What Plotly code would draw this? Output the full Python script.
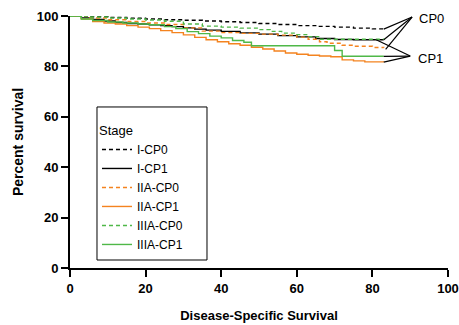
import plotly.graph_objects as go

# ---- data ----
t_i_cp0 = [0, 5, 10, 15, 20, 25, 30, 35, 40, 45, 50, 55, 60, 65, 70, 75, 80, 83]
s_i_cp0 = [100, 99.7, 99.4, 99.1, 98.8, 98.5, 98.3, 98.0, 97.7, 97.4, 97.0, 96.6, 96.2, 95.9, 95.6, 95.2, 94.9, 94.8]

t_i_cp1 = [0, 3, 6, 9, 12, 15, 18, 21, 24, 27, 30, 33, 36, 40, 45, 50, 55, 60, 65, 70, 75, 80, 83]
s_i_cp1 = [100, 99.2, 98.6, 98.0, 97.4, 97.0, 96.8, 96.5, 96.2, 95.8, 95.3, 94.8, 94.4, 93.9, 93.3, 92.8, 92.2, 91.7, 91.1, 90.7, 90.6, 90.6, 90.6]

t_iia_cp0 = [0, 5, 10, 15, 20, 25, 30, 35, 40, 45, 50, 55, 60, 63, 66, 68, 72, 75, 80, 83]
s_iia_cp0 = [100, 99.2, 98.5, 97.8, 97.2, 96.6, 95.3, 94.0, 93.4, 93.1, 92.8, 92.4, 91.6, 90.8, 89.8, 89.2, 88.4, 88.0, 87.5, 87.4]

t_iia_cp1 = [0, 3, 6, 9, 12, 15, 18, 21, 24, 27, 30, 33, 36, 39, 42, 45, 48, 51, 54, 57, 60, 63, 66, 69, 72, 75, 78, 83]
s_iia_cp1 = [100, 98.8, 97.8, 97.2, 96.8, 96.2, 95.6, 95.0, 94.2, 93.4, 92.5, 91.5, 90.6, 89.8, 89.0, 88.4, 87.6, 86.9, 86.1, 85.3, 84.8, 84.4, 84.1, 83.8, 82.6, 82.2, 81.8, 81.7]

t_iiia_cp0 = [0, 5, 10, 15, 20, 25, 30, 35, 40, 45, 50, 53, 56, 60, 63, 66, 83]
s_iiia_cp0 = [100, 99.6, 99.2, 98.8, 98.4, 97.9, 96.8, 96.0, 95.6, 95.2, 94.6, 93.9, 93.2, 92.6, 91.8, 90.8, 90.6]

t_iiia_cp1 = [0, 3, 6, 10, 14, 18, 21, 25, 28, 31, 34, 37, 40, 43, 46, 48, 70, 72, 83]
s_iiia_cp1 = [100, 98.8, 98.2, 97.6, 97.2, 96.8, 96.5, 95.8, 95.0, 93.8, 93.0, 92.0, 91.3, 90.3, 89.6, 88.2, 86.3, 84.0, 84.0]

x_ticks = [0, 20, 40, 60, 80, 100]
y_ticks = [0, 20, 40, 60, 80, 100]

BLACK = "#000000"
ORANGE = "#F4831F"
GREEN = "#4FB848"
FONT = "Arial, Liberation Sans, sans-serif"

series = [
    ("I-CP0", t_i_cp0, s_i_cp0, BLACK, "dash"),
    ("I-CP1", t_i_cp1, s_i_cp1, BLACK, "solid"),
    ("IIA-CP0", t_iia_cp0, s_iia_cp0, ORANGE, "dash"),
    ("IIA-CP1", t_iia_cp1, s_iia_cp1, ORANGE, "solid"),
    ("IIIA-CP0", t_iiia_cp0, s_iiia_cp0, GREEN, "dash"),
    ("IIIA-CP1", t_iiia_cp1, s_iiia_cp1, GREEN, "solid"),
]

fig = go.Figure()
for name, t, s, c, d in series:
    fig.add_trace(go.Scatter(
        x=t, y=s, name=name, mode="lines",
        line=dict(color=c, dash="4px,3px" if d == "dash" else "solid", width=1.4, shape="hv"),
        cliponaxis=False,
    ))

# leader lines for CP0 / CP1 annotations
cp0_hub = (90.5, 99.6)
cp1_hub = (90.0, 84.1)
cp0_ends = [(t_i_cp0[-1], s_i_cp0[-1]), (t_iiia_cp0[-1], s_iiia_cp0[-1]), (t_iia_cp0[-1] + 0.5, s_iia_cp0[-1] - 0.6)]
cp1_ends = [(t_i_cp1[-1] - 2, s_i_cp1[-1]), (t_iiia_cp1[-1], s_iiia_cp1[-1]), (t_iia_cp1[-1], s_iia_cp1[-1])]
for hub, ends in ((cp0_hub, cp0_ends), (cp1_hub, cp1_ends)):
    for ex, ey in ends:
        fig.add_shape(type="line", x0=ex, y0=ey, x1=hub[0], y1=hub[1],
                      xref="x", yref="y", line=dict(color=BLACK, width=1.2))

fig.add_annotation(x=cp0_hub[0] + 1.2, y=99.2, text="CP0", showarrow=False, xanchor="left",
                   font=dict(family=FONT, size=13, color=BLACK))
fig.add_annotation(x=cp1_hub[0] + 1.6, y=83.3, text="CP1", showarrow=False, xanchor="left",
                   font=dict(family=FONT, size=13, color=BLACK))

# legend frame (drawn as a rectangle around the legend)
fig.add_shape(type="rect", xref="paper", yref="paper",
              x0=0.0714, x1=0.3624, y0=0.0317, y1=0.639,
              line=dict(color=BLACK, width=1), fillcolor="rgba(0,0,0,0)", layer="above")

axis_common = dict(
    showgrid=False, zeroline=False, showline=True, linecolor=BLACK, linewidth=2,
    ticks="outside", ticklen=7, tickwidth=2, tickcolor=BLACK, automargin=False,
    ticklabeloverflow="allow",
    tickfont=dict(family=FONT, size=13, color=BLACK),
)

fig.update_layout(
    width=459, height=325,
    margin=dict(l=70, r=11, t=16, b=57),
    paper_bgcolor="white", plot_bgcolor="white",
    font=dict(family=FONT, color=BLACK),
    xaxis=dict(range=[0, 100], tickvals=x_ticks, ticktext=[f"<b>{v}</b>" for v in x_ticks],
               title=dict(text="<b>Disease-Specific Survival</b>", font=dict(family=FONT, size=13), standoff=16),
               **axis_common),
    yaxis=dict(range=[0, 100], tickvals=y_ticks, ticktext=[f"<b>{v}</b>" for v in y_ticks],
               title=dict(text="<b>Percent survival</b>", font=dict(family=FONT, size=14), standoff=10),
               **axis_common),
    legend=dict(
        title=dict(text="Stage", font=dict(family=FONT, size=13)),
        x=0.0714, y=0.595, xanchor="left", yanchor="top",
        borderwidth=0, bgcolor="rgba(0,0,0,0)",
        font=dict(family=FONT, size=12, color=BLACK),
        tracegroupgap=0,
    ),
)

# remove the browser's default 8px body margin so the figure fills the window
fig.write_html("out.html", config={"displayModeBar": False},
               post_script="document.body.style.margin='0';document.body.style.overflow='hidden';")
